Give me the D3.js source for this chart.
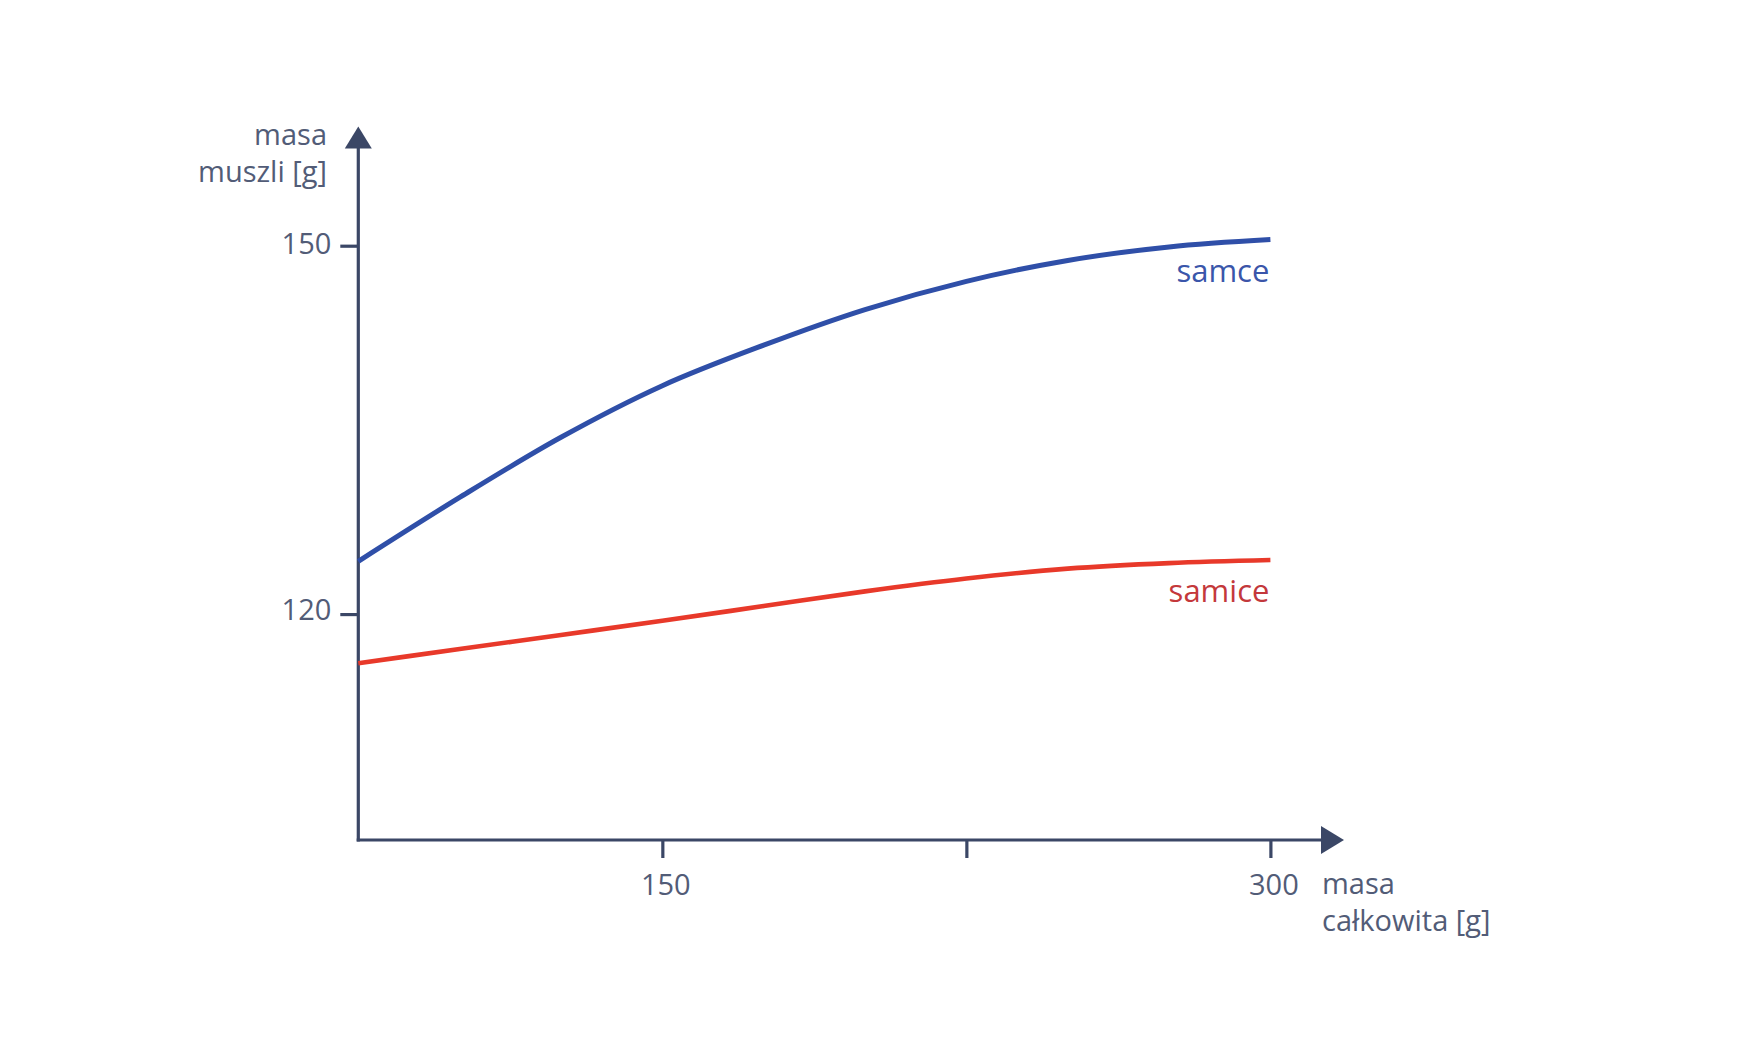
<!DOCTYPE html>
<html>
<head>
<meta charset="utf-8">
<script src="https://cdn.jsdelivr.net/npm/d3@7"></script>
<style>
  html, body { margin: 0; padding: 0; background: #ffffff; }
  svg { display: block; }
  text { font-family: "Open Sans", "Noto Sans", sans-serif; }
</style>
</head>
<body>
<svg id="chart" width="1761" height="1055"></svg>
<script>
// ---- data ----
const xValues = [75, 100, 125, 150, 175, 200, 225, 250, 275, 300];
const samce   = [124.3, 129.5, 134.4, 138.6, 141.9, 144.8, 147.1, 148.8, 149.9, 150.5];
const samice  = [116.0, 117.15, 118.3, 119.45, 120.65, 121.85, 122.9, 123.7, 124.15, 124.4];
const seriesNames = ["samce", "samice"];
const xTickValues = [150, 225, 300];
const xTickLabels = ["150", "", "300"];
const yTickValues = [120, 150];
const yTickLabels = ["120", "150"];
const yAxisTitle = ["masa", "muszli [g]"];
const xAxisTitle = ["masa", "całkowita [g]"];
const xDomain = [75, 300];
const yDomain = [101.6, 159.7];

// ---- styles ----
const axisColor = "#3b4766";
const textColor = "#525c77";
const lineColors = { samce: "#2f4fa8", samice: "#e8392a" };
const labelColors = { samce: "#3a56aa", samice: "#c4383b" };

const svg = d3.select("#chart");
const x = d3.scaleLinear().domain(xDomain).range([358.3, 1270.4]);
const y = d3.scaleLinear().domain(yDomain).range([840, 126.6]);

const x0 = x(xDomain[0]);
const y0 = y(yDomain[0]);
const xArrowTip = 1344, xArrowLen = 23, arrowHalf = 14;
const yArrowTip = y(yDomain[1]), yArrowLen = 22;

// ---- axes ----
const g = svg.append("g");

g.append("line")
  .attr("x1", x0).attr("x2", x0)
  .attr("y1", y0 + 1.5).attr("y2", yArrowTip + yArrowLen - 2)
  .attr("stroke", axisColor).attr("stroke-width", 3.2);
g.append("path")
  .attr("d", `M${x0},${yArrowTip} L${x0 + 13.5},${yArrowTip + yArrowLen} L${x0 - 13.5},${yArrowTip + yArrowLen} Z`)
  .attr("fill", axisColor);

g.append("line")
  .attr("x1", x0 - 1.6).attr("x2", xArrowTip - xArrowLen + 2)
  .attr("y1", y0).attr("y2", y0)
  .attr("stroke", axisColor).attr("stroke-width", 3.2);
g.append("path")
  .attr("d", `M${xArrowTip},${y0} L${xArrowTip - xArrowLen},${y0 - arrowHalf} L${xArrowTip - xArrowLen},${y0 + arrowHalf} Z`)
  .attr("fill", axisColor);

const yAxis = d3.axisLeft(y)
  .tickValues(yTickValues)
  .tickSize(18)
  .tickPadding(9)
  .tickFormat((d, i) => yTickLabels[i]);
const yg = svg.append("g").attr("transform", `translate(${x0},0)`).call(yAxis);
yg.select(".domain").remove();
yg.selectAll(".tick line").attr("stroke", axisColor).attr("stroke-width", 3.2);
yg.selectAll(".tick text")
  .attr("fill", textColor)
  .attr("font-size", 29)
  .attr("font-family", "'Open Sans', sans-serif")
  .attr("dy", (d, i) => i === 0 ? "0.18em" : "0.28em");

const xAxis = d3.axisBottom(x)
  .tickValues(xTickValues)
  .tickSize(18)
  .tickPadding(16)
  .tickFormat((d, i) => xTickLabels[i]);
const xg = svg.append("g").attr("transform", `translate(0,${y0})`).call(xAxis);
xg.select(".domain").remove();
xg.selectAll(".tick line").attr("stroke", axisColor).attr("stroke-width", 3.2);
xg.selectAll(".tick text")
  .attr("fill", textColor)
  .attr("font-size", 29)
  .attr("font-family", "'Open Sans', sans-serif")
  .attr("dx", 3);

svg.append("text")
  .attr("y", 145)
  .attr("text-anchor", "end")
  .attr("fill", textColor).attr("font-size", 29)
  .selectAll("tspan").data(yAxisTitle).join("tspan")
  .attr("x", 327).attr("dy", (d, i) => i === 0 ? 0 : 36.5)
  .text(d => d);

svg.append("text")
  .attr("y", 894)
  .attr("text-anchor", "start")
  .attr("fill", textColor).attr("font-size", 29)
  .selectAll("tspan").data(xAxisTitle).join("tspan")
  .attr("x", 1322).attr("dy", (d, i) => i === 0 ? 0 : 37)
  .text(d => d);

// ---- lines ----
const seriesData = {
  samce: xValues.map((v, i) => [v, samce[i]]),
  samice: xValues.map((v, i) => [v, samice[i]])
};
const line = d3.line()
  .x(d => x(d[0]))
  .y(d => y(d[1]))
  .curve(d3.curveMonotoneX);

seriesNames.forEach(name => {
  svg.append("path")
    .datum(seriesData[name])
    .attr("d", line)
    .attr("fill", "none")
    .attr("stroke", lineColors[name])
    .attr("stroke-width", name === "samce" ? 5 : 4.6)
    .attr("stroke-linecap", "butt");
});

seriesNames.forEach(name => {
  const last = seriesData[name][seriesData[name].length - 1];
  svg.append("text")
    .attr("x", x(last[0]) - 1)
    .attr("y", y(last[1]) + 42)
    .attr("text-anchor", "end")
    .attr("fill", labelColors[name])
    .attr("font-size", 31)
    .text(name);
});
</script>
</body>
</html>
